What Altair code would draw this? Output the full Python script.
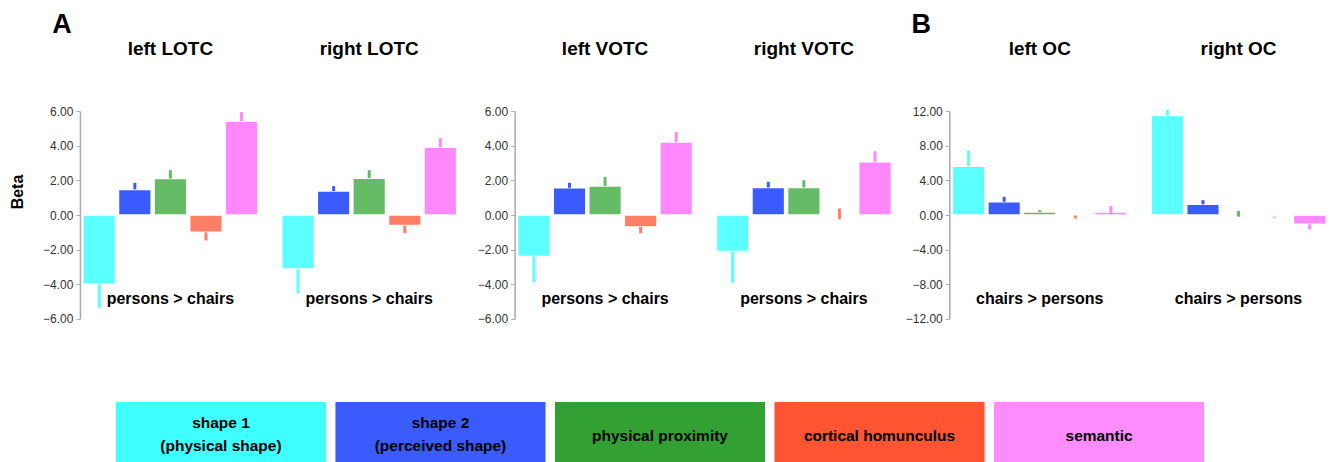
import altair as alt
import pandas as pd

regions = ["left LOTC", "right LOTC", "left VOTC", "right VOTC", "left OC", "right OC"]
categories = ["shape 1", "shape 2", "physical proximity", "cortical homunculus", "semantic"]
bar_colors = ["#5CFFFF", "#3A5BFF", "#66BB66", "#FF7F66", "#FF88FF"]
legend_labels = ["shape 1\n(physical shape)", "shape 2\n(perceived shape)",
                 "physical proximity", "cortical homunculus", "semantic"]
legend_colors = ["#3FFFFF", "#3A5CFF", "#33A033", "#FF5533", "#FF8CFF"]

beta = {
    "left LOTC":  [-4.00, 1.48, 2.11, -1.00, 5.42],
    "right LOTC": [-3.12, 1.38, 2.13, -0.61, 3.91],
    "left VOTC":  [-2.39, 1.57, 1.67, -0.69, 4.21],
    "right VOTC": [-2.11, 1.59, 1.59, 0.00, 3.07],
    "left OC":    [5.63, 1.53, 0.34, 0.00, 0.34],
    "right OC":   [11.49, 1.23, 0.05, -0.05, -1.07],
}
err_lo = {
    "left LOTC":  [-5.36, 1.48, 2.11, -1.47, 5.42],
    "right LOTC": [-4.54, 1.38, 2.13, -1.05, 3.91],
    "left VOTC":  [-3.89, 1.57, 1.67, -1.05, 4.21],
    "right VOTC": [-3.93, 1.59, 1.59, -0.25, 3.07],
    "left OC":    [5.63, 1.53, 0.34, -0.40, 0.08],
    "right OC":   [11.49, 1.23, -0.19, -0.30, -1.65],
}
err_hi = {
    "left LOTC":  [-4.00, 1.86, 2.59, -1.00, 5.94],
    "right LOTC": [-3.12, 1.67, 2.59, -0.61, 4.44],
    "left VOTC":  [-2.39, 1.86, 2.20, -0.69, 4.79],
    "right VOTC": [-2.11, 1.92, 2.01, 0.38, 3.68],
    "left OC":    [7.47, 2.10, 0.57, -0.05, 1.03],
    "right OC":   [12.15, 1.72, 0.46, -0.20, -1.07],
}
contrast = {
    "left LOTC": "persons > chairs", "right LOTC": "persons > chairs",
    "left VOTC": "persons > chairs", "right VOTC": "persons > chairs",
    "left OC": "chairs > persons", "right OC": "chairs > persons",
}

rows = []
for r in regions:
    for i, c in enumerate(categories):
        rows.append(dict(region=r, cat=c, beta=beta[r][i], lo=err_lo[r][i], hi=err_hi[r][i]))
df = pd.DataFrame(rows)
reg_df = pd.DataFrame({"region": regions, "label": [contrast[r] for r in regions]})
leg_df = pd.DataFrame({"label": legend_labels})

FONT = "Liberation Sans"
W, H = 380, 208


def panel(regs, ymax, tick_vals, extra=None):
    d = df[df.region.isin(regs)]
    rd = reg_df[reg_df.region.isin(regs)]
    xs = alt.Scale(domain=regs, paddingInner=0.12, paddingOuter=0.015)
    xenc = alt.X("region:N", sort=regs, axis=None, scale=xs)
    xoff = alt.XOffset("cat:N", sort=categories,
                       scale=alt.Scale(domain=categories, paddingInner=0.083, paddingOuter=0))
    yscale = alt.Scale(domain=[-ymax, ymax], nice=False, zero=False)
    yaxis = alt.Axis(values=tick_vals, format=".2f", title=None, grid=False,
                     labelFontSize=12, labelColor="#333333", labelFont=FONT,
                     domainColor="#AAAAAA", domainWidth=1.5, tickColor="#AAAAAA",
                     tickSize=4, labelPadding=3)
    color = alt.Color("cat:N", scale=alt.Scale(domain=categories, range=bar_colors), legend=None)
    bars = alt.Chart(d).mark_bar(stroke="white", strokeWidth=1.5).encode(
        x=xenc, xOffset=xoff, y=alt.Y("beta:Q", scale=yscale, axis=yaxis), color=color)
    errs = alt.Chart(d).mark_rule(strokeWidth=3).encode(
        x=xenc, xOffset=xoff, y=alt.Y("lo:Q", scale=yscale, axis=yaxis), y2="hi:Q", color=color)
    titles = alt.Chart(rd).mark_text(fontSize=19, fontWeight="bold", font=FONT,
                                     color="black", baseline="middle").encode(
        x=xenc, y=alt.value(-62.5), text="region:N")
    annots = alt.Chart(rd).mark_text(fontSize=16, fontWeight="bold", font=FONT,
                                     color="black", baseline="middle").encode(
        x=xenc, y=alt.value(188.5), text="label:N")
    layers = [bars, errs, titles, annots]
    if extra:
        layers += extra
    return alt.layer(*layers).properties(width=W, height=H)


ticks6 = [-6, -4, -2, 0, 2, 4, 6]
ticks12 = [-12, -8, -4, 0, 4, 8, 12]

beta_txt = alt.Chart(reg_df.head(1)).mark_text(
    text="Beta", fontSize=16, fontWeight="bold", font=FONT, angle=270,
    baseline="middle", color="black").encode(x=alt.value(-62), y=alt.value(81))
a_txt = alt.Chart(reg_df.head(1)).mark_text(
    text="A", fontSize=27, fontWeight="bold", font=FONT, baseline="middle",
    color="black").encode(x=alt.value(-18), y=alt.value(-86.5))
b_txt = alt.Chart(reg_df.head(1)).mark_text(
    text="B", fontSize=27, fontWeight="bold", font=FONT, baseline="middle",
    color="black").encode(x=alt.value(-28), y=alt.value(-86.5))

lx = alt.X("label:N", sort=legend_labels, axis=None,
           scale=alt.Scale(domain=legend_labels, range=[36, 1125], paddingInner=0.043, paddingOuter=0))
leg_bars = alt.Chart(leg_df).mark_bar().encode(
    x=lx, y=alt.value(291), y2=alt.value(365),
    color=alt.Color("label:N", scale=alt.Scale(domain=legend_labels, range=legend_colors), legend=None))
leg_base = alt.Chart(leg_df).transform_calculate(
    parts="split(datum.label, '\\n')",
    n="length(split(datum.label, '\\n'))",
    line1="split(datum.label, '\\n')[0]",
    line2="length(split(datum.label, '\\n')) > 1 ? split(datum.label, '\\n')[1] : ''",
)
txt_kw = dict(fontSize=15.5, fontWeight="bold", font=FONT, color="black", baseline="middle")
leg_single = leg_base.transform_filter("datum.n == 1").mark_text(**txt_kw).encode(
    x=lx, y=alt.value(325.5), text="line1:N")
leg_top = leg_base.transform_filter("datum.n > 1").mark_text(**txt_kw).encode(
    x=lx, y=alt.value(312.5), text="line1:N")
leg_bot = leg_base.transform_filter("datum.n > 1").mark_text(**txt_kw).encode(
    x=lx, y=alt.value(335.5), text="line2:N")

p1_main = panel(regions[0:2], 6, ticks6, [beta_txt, a_txt])
p1 = alt.layer(p1_main, alt.layer(leg_bars, leg_single, leg_top, leg_bot)).resolve_scale(
    x="independent", color="independent")
p2 = panel(regions[2:4], 6, ticks6)
p3 = panel(regions[4:6], 12, ticks12, [b_txt])

chart = alt.hconcat(p1, p2, p3, spacing=55, bounds="flush").configure_view(stroke=None).properties(
    padding={"left": 2, "top": 2, "right": 2, "bottom": 0}, background="white")

chart.save("out.html", embed_options={"renderer": "svg", "actions": False})
